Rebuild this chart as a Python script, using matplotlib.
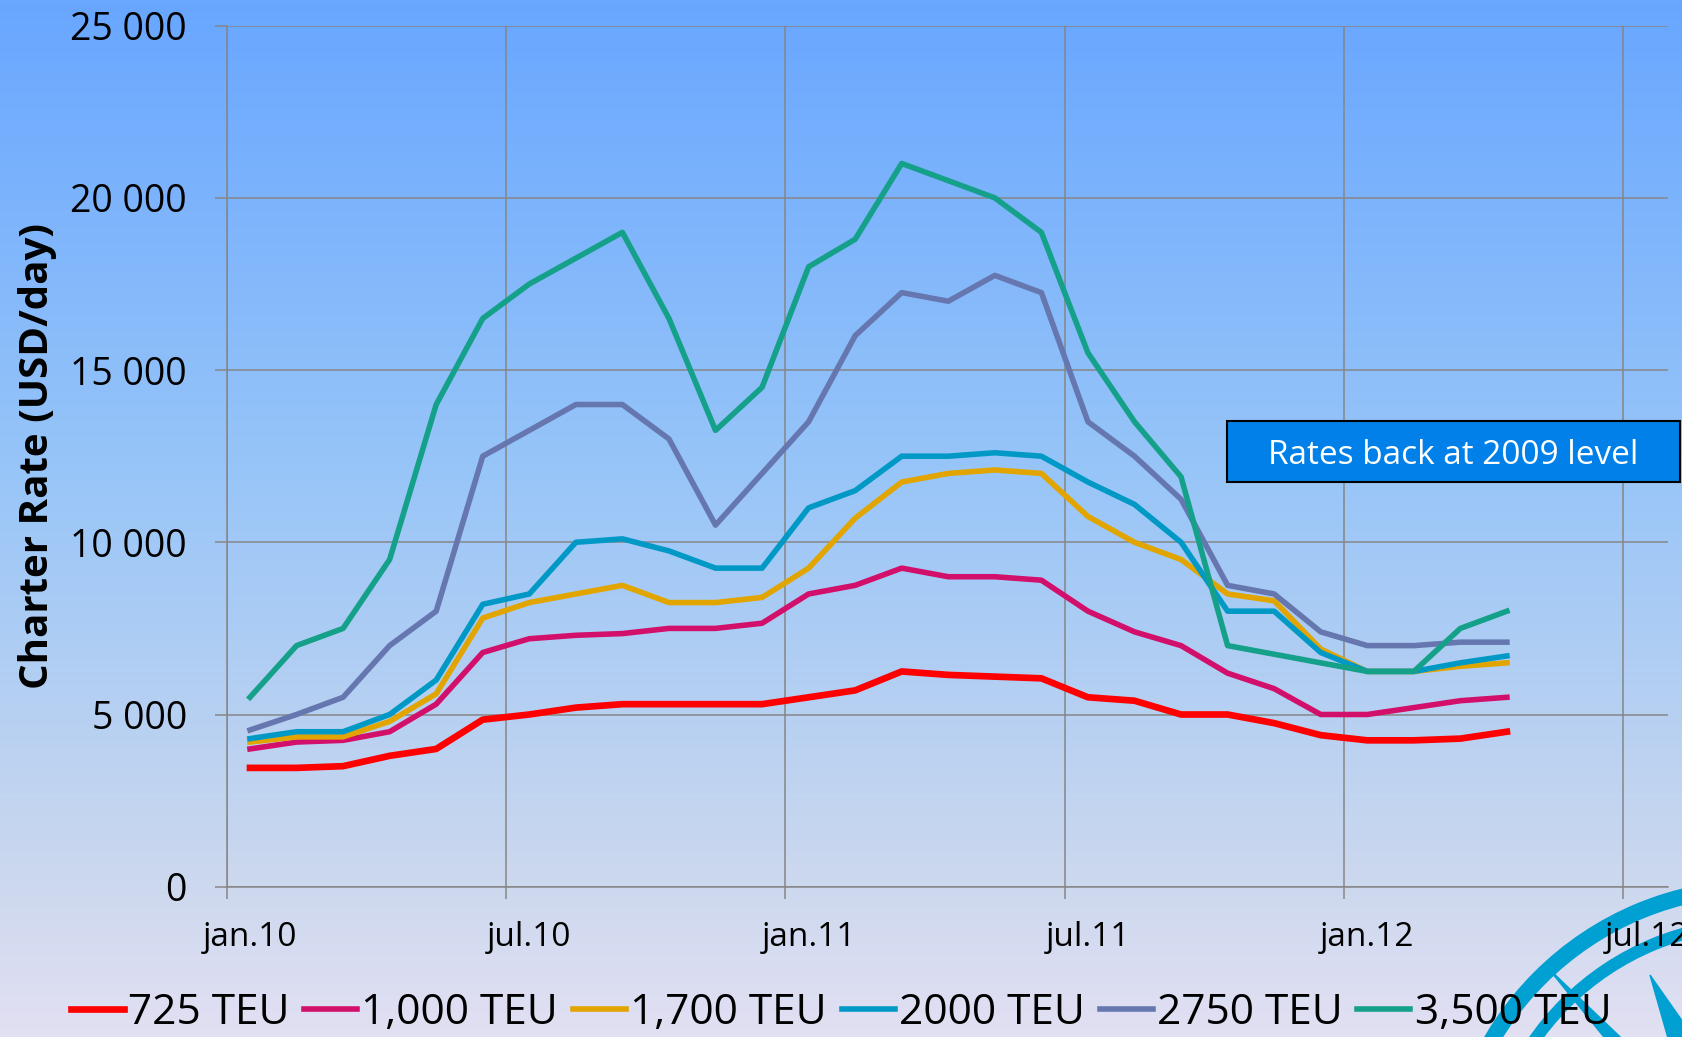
import numpy as np
import matplotlib
matplotlib.use('Agg')
import matplotlib.pyplot as plt
from matplotlib.colors import LinearSegmentedColormap
from matplotlib.patches import Rectangle, Wedge, Polygon
from matplotlib.ticker import FuncFormatter

plt.rcParams['font.family'] = ['Open Sans', 'DejaVu Sans']

# monthly charter rates, jan.10 .. apr.12 (USD/day)
months = np.arange(28) + 0.5
teu_725 = [3450, 3450, 3500, 3800, 4000, 4850, 5000, 5200, 5300, 5300, 5300, 5300, 5500, 5700,
           6250, 6150, 6100, 6050, 5500, 5400, 5000, 5000, 4750, 4400, 4250, 4250, 4300, 4500]
teu_1000 = [4000, 4200, 4250, 4500, 5300, 6800, 7200, 7300, 7350, 7500, 7500, 7650, 8500, 8750,
            9250, 9000, 9000, 8900, 8000, 7400, 7000, 6200, 5750, 5000, 5000, 5200, 5400, 5500]
teu_1700 = [4200, 4350, 4350, 4800, 5600, 7800, 8250, 8500, 8750, 8250, 8250, 8400, 9250, 10700,
            11750, 12000, 12100, 12000, 10750, 10000, 9500, 8500, 8300, 6900, 6250, 6250, 6400, 6500]
teu_2000 = [4300, 4500, 4500, 5000, 6000, 8200, 8500, 10000, 10100, 9750, 9250, 9250, 11000, 11500,
            12500, 12500, 12600, 12500, 11750, 11100, 10000, 8000, 8000, 6800, 6250, 6250, 6500, 6700]
teu_2750 = [4550, 5000, 5500, 7000, 8000, 12500, 13250, 14000, 14000, 13000, 10500, 12000, 13500, 16000,
            17250, 17000, 17750, 17250, 13500, 12500, 11250, 8750, 8500, 7400, 7000, 7000, 7100, 7100]
teu_3500 = [5500, 7000, 7500, 9500, 14000, 16500, 17500, 18250, 19000, 16500, 13250, 14500, 18000, 18800,
            21000, 20500, 20000, 19000, 15500, 13500, 11900, 7000, 6750, 6500, 6250, 6250, 7500, 8000]

series_names = ['725 TEU', '1,000 TEU', '1,700 TEU', '2000 TEU', '2750 TEU', '3,500 TEU']
series_vals = [teu_725, teu_1000, teu_1700, teu_2000, teu_2750, teu_3500]
series_colors = ['#FF0000', '#D20F6A', '#E2A500', '#0099C5', '#6677B0', '#15A08A']
series_lw = [4.8, 4.0, 4.0, 4.0, 4.0, 4.0]

tick_labels = ['jan.10', 'jul.10', 'jan.11', 'jul.11', 'jan.12', 'jul.12']

W, H = 1682, 1037
fig = plt.figure(figsize=(W / 100, H / 100), dpi=100)

# background gradient + logo
bg = fig.add_axes([0, 0, 1, 1], zorder=-10)
bg.set_xlim(0, W)
bg.set_ylim(H, 0)
bg.axis('off')
cmap = LinearSegmentedColormap.from_list(
    'bg', [(0, '#68A6FF'), (0.45, '#97C5F8'), (0.85, '#CCD8EE'), (1, '#E2E0F3')])
grad = np.linspace(0, 1, 256).reshape(-1, 1)
bg.imshow(grad, aspect='auto', cmap=cmap, extent=[0, W, H, 0])

logo = '#00A0D2'
cx, cy = 1758, 1196
bg.add_patch(Wedge((cx, cy), 316, 0, 360, width=15, color=logo))
bg.add_patch(Wedge((cx, cy), 278, 0, 360, width=11, color=logo))
bg.add_patch(Polygon([(1548, 968), (cx - 14, cy + 14), (cx + 14, cy - 14)], color=logo))
bg.add_patch(Polygon([(1650, 975), (cx - 45, cy), (cx + 40, cy - 10)], color=logo))

# main chart
ax = fig.add_axes([226.7 / W, 1 - 886.7 / H, (1668 - 226.7) / W, (886.7 - 25.7) / H])
ax.patch.set_alpha(0)
for name, vals, color, lw in zip(series_names, series_vals, series_colors, series_lw):
    ax.plot(months, vals, color=color, lw=lw, label=name)

ax.set_xlim(0, 30.96)
ax.set_ylim(0, 25000)
ax.set_yticks(range(0, 25001, 5000))
ax.yaxis.set_major_formatter(FuncFormatter(lambda v, p: f'{v:,.0f}'.replace(',', ' ')))
ax.set_xticks(range(0, 31, 6))
ax.set_xticklabels([])
ax.set_xticks(np.arange(0.5, 31, 6), minor=True)
ax.set_xticklabels(tick_labels, minor=True)

grid_c = '#868686'
ax.tick_params(axis='both', which='major', length=8.6, width=1.1, color=grid_c, direction='out')
ax.tick_params(axis='y', labelsize=27, pad=20)
ax.tick_params(axis='x', which='minor', length=0, pad=25, labelsize=24)
ax.grid(True, which='major', color=grid_c, lw=1.1)
ax.set_axisbelow(True)
for s in ['top', 'right']:
    ax.spines[s].set_visible(False)
for s in ['left', 'bottom']:
    ax.spines[s].set_color(grid_c)
    ax.spines[s].set_linewidth(1.1)

fig.text(38 / W, 1 - 456 / H, 'Charter Rate (USD/day)', rotation=90, ha='center', va='center',
         fontsize=29, fontweight='bold')

# annotation box
ov = fig.add_axes([0, 0, 1, 1], zorder=5)
ov.set_xlim(0, W)
ov.set_ylim(H, 0)
ov.axis('off')
ov.add_patch(Rectangle((1226.7, 420.7), 453.3, 61, fc='#0080E8', ec='black', lw=1.5))
ov.text(1453, 455, 'Rates back at 2009 level', color='white', fontsize=24, ha='center', va='center')

fig.legend(loc='center', bbox_to_anchor=(841 / W, 1 - 1013 / H), ncol=6, frameon=False,
           fontsize=30.5, handlelength=1.25, handletextpad=0.1, columnspacing=0.35)

fig.savefig('out.png', dpi=100)
